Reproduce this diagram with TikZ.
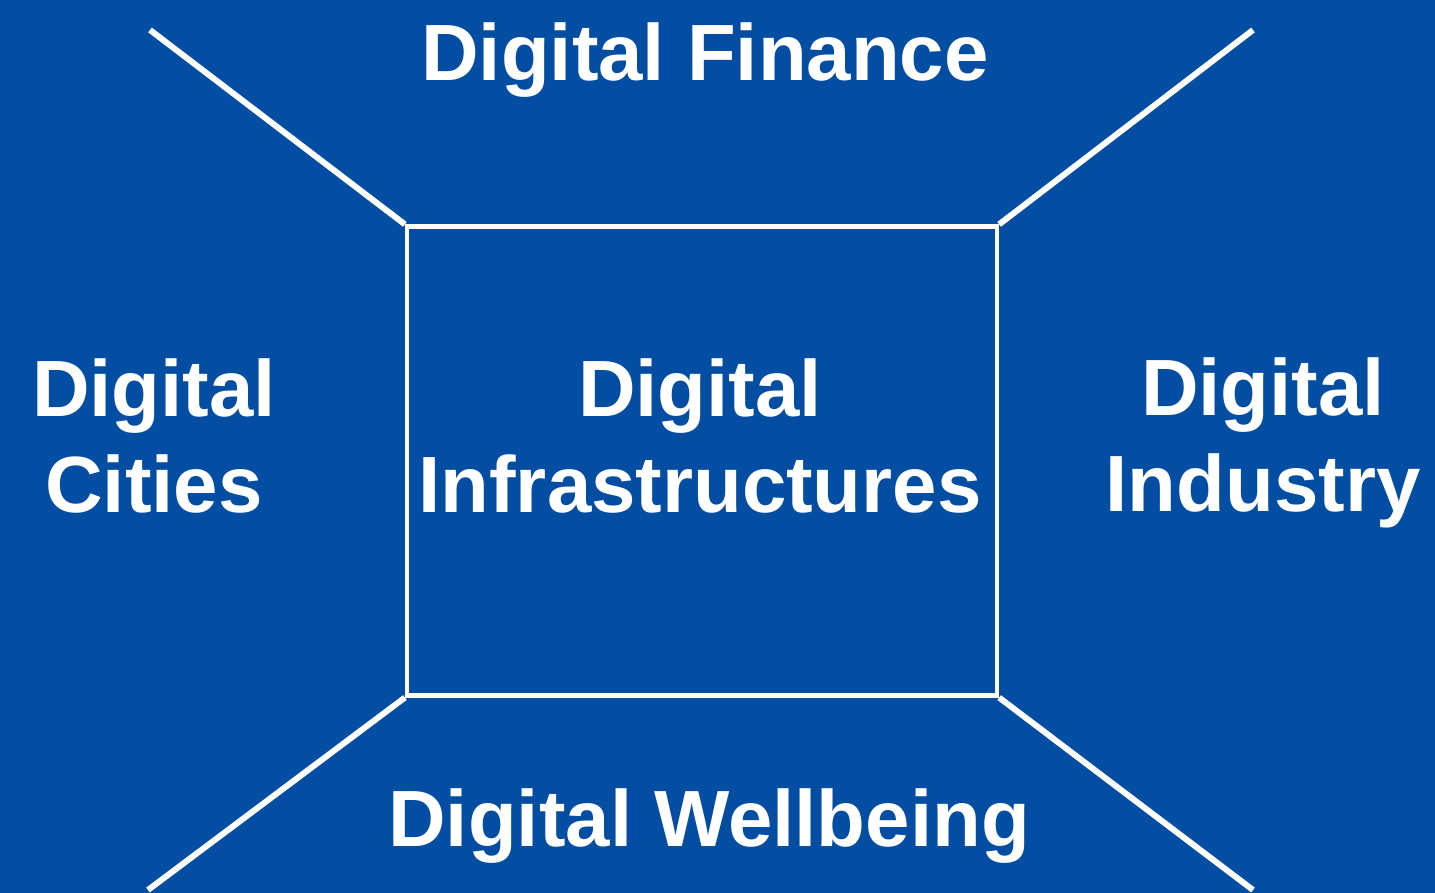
\documentclass[tikz,border=0pt]{standalone}
\usepackage{fontspec}
\setmainfont{Liberation Sans}
\usetikzlibrary{positioning}
\definecolor{bgblue}{HTML}{034EA2}
\tikzset{
 field/.style={text=white,font=\fontsize{22.7pt}{27.2pt}\selectfont\bfseries,align=center,inner sep=0pt},
 spoke/.style={white,line width=1.7pt},
}
\begin{document}
\begin{tikzpicture}
 \fill[bgblue](0,0) rectangle (14.35,8.93);
 \useasboundingbox (0,0) rectangle (14.35,8.93);
 % centre box
 \node[draw=white,line width=1.2pt,minimum width=5.9cm,minimum height=4.69cm,inner sep=0pt] (infra) at (7.02,4.32) {};
 \node[field] (infratext) at (7.0,4.57) {Digital\\Infrastructures};
 % outer corners
 \coordinate (tl) at (1.50,8.63);
 \coordinate (tr) at (12.53,8.63);
 \coordinate (bl) at (1.48,0.03);
 \coordinate (br) at (12.53,0.03);
 \draw[spoke](infra.north west)--(tl);
 \draw[spoke](infra.north east)--(tr);
 \draw[spoke](infra.south west)--(bl);
 \draw[spoke](infra.south east)--(br);
 % four fields
 \node[field] (finance) at (7.05,8.33) {Digital Finance};
 \node[field] (cities) at (1.54,4.57) {Digital\\Cities};
 \node[field] (industry) at (12.63,4.50) {Digital\\Industry};
 \node[field] (wellbeing) at (7.09,0.67) {Digital Wellbeing};
\end{tikzpicture}
\end{document}
